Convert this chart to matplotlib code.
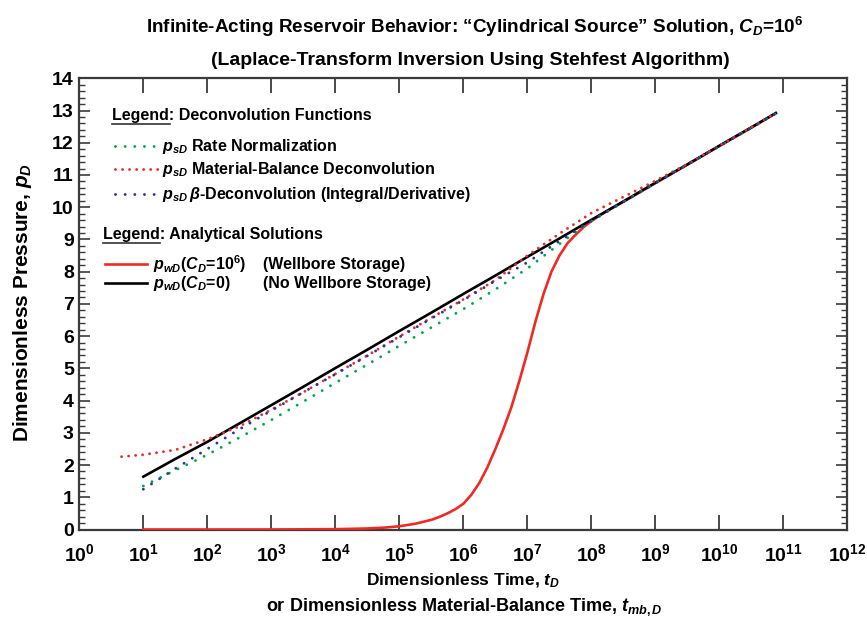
import matplotlib
matplotlib.use('Agg')
import matplotlib.pyplot as plt
from matplotlib import font_manager
from matplotlib.ticker import MultipleLocator, NullLocator, FixedLocator
import numpy as np

# values (x given as log10 of dimensionless time)
black_logt = [1.0, 1.5, 2.0, 2.5, 3.0, 3.5, 4.0, 4.5, 5.0, 5.5, 6.0, 6.5, 7.0,
              7.5, 8.0, 8.5, 9.0, 9.5, 10.0, 10.5, 10.88]
black_p = [1.64, 2.19, 2.72, 3.29, 3.86, 4.43, 5.01, 5.58, 6.16, 6.73, 7.31, 7.88,
           8.46, 9.03, 9.61, 10.18, 10.76, 11.33, 11.91, 12.48, 12.92]

red_logt = [1.0, 2.0, 3.0, 4.0, 4.5, 4.75, 5.0, 5.25, 5.5, 5.625, 5.75, 5.875,
            6.0, 6.125, 6.25, 6.375, 6.5, 6.625, 6.75, 6.875, 7.0, 7.125, 7.25,
            7.375, 7.5, 7.625, 7.75, 7.875, 8.0, 8.125, 8.25, 8.5, 8.75, 9.0,
            9.5, 10.0, 10.5, 10.88]
red_p = [0.00001, 0.0001, 0.001, 0.01, 0.032, 0.056, 0.10, 0.18, 0.30, 0.39,
         0.50, 0.63, 0.80, 1.08, 1.45, 1.93, 2.50, 3.12, 3.80, 4.62, 5.50, 6.45,
         7.30, 8.00, 8.50, 8.88, 9.14, 9.38, 9.57, 9.74, 9.89, 10.17, 10.46,
         10.75, 11.32, 11.90, 12.47, 12.92]

green_logt = [1.0, 1.5, 2.0, 2.5, 3.0, 3.5, 4.0, 4.5, 5.0, 5.5, 6.0, 6.5, 7.0,
              7.5, 8.0, 8.5, 9.0, 9.5, 10.0, 10.5, 10.88]
green_p = [1.35, 1.84, 2.32, 2.85, 3.40, 3.97, 4.55, 5.12, 5.70, 6.27, 6.84, 7.45,
           8.10, 8.86, 9.57, 10.17, 10.75, 11.33, 11.90, 12.47, 12.91]

mb_logt = [0.66, 1.0, 1.5, 2.0, 2.5, 3.0, 3.5, 4.0, 4.5, 5.0, 5.5, 6.0, 6.5, 7.0,
           7.5, 8.0, 8.5, 9.0, 9.5, 10.0, 10.5, 10.88]
mb_p = [2.26, 2.32, 2.47, 2.80, 3.20, 3.72, 4.26, 4.83, 5.40, 5.99, 6.57, 7.14,
        7.74, 8.50, 9.18, 9.82, 10.32, 10.82, 11.34, 11.91, 12.48, 12.92]

blue_logt = [1.0, 1.5, 2.0, 2.5, 3.0, 3.5, 4.0, 4.5, 5.0, 5.5, 6.0, 6.5, 7.0,
             7.5, 8.0, 8.5, 9.0, 9.5, 10.0, 10.5, 10.88]
blue_p = [1.25, 1.89, 2.50, 3.11, 3.69, 4.26, 4.82, 5.39, 5.97, 6.55, 7.12, 7.72,
          8.29, 8.95, 9.58, 10.17, 10.75, 11.33, 11.90, 12.47, 12.91]

x_exponents = list(range(0, 13))

names = {f.name for f in font_manager.fontManager.ttflist}
narrow = 'Liberation Sans Narrow' if 'Liberation Sans Narrow' in names else 'Liberation Sans'
wide = 'Liberation Sans'

plt.rcParams['mathtext.fontset'] = 'custom'
plt.rcParams['mathtext.rm'] = wide + ':bold'
plt.rcParams['mathtext.it'] = wide + ':italic:bold'
plt.rcParams['mathtext.bf'] = wide + ':bold'

GREEN = '#00a651'
MBRED = '#e0312f'
BLUE = '#2b3590'
RED = '#ee2a24'
SPINE = '#3a3a3a'

fig = plt.figure(figsize=(8.67, 6.27), dpi=100)
ax = fig.add_axes([0.0915, 0.1555, 0.886, 0.7196])

lw_dot = 2.1
dot_wide = (0, (0.01, 3.3))
dot_tight = (0, (0.01, 2.4))
ax.plot(10.0 ** np.array(red_logt), red_p, color=RED, lw=1.9, zorder=3)
ax.plot(10.0 ** np.array(black_logt), black_p, color='black', lw=1.9, zorder=4)
ax.plot(10.0 ** np.array(green_logt), green_p, color=GREEN, lw=lw_dot,
        linestyle=dot_wide, dash_capstyle='round', zorder=5)
ax.plot(10.0 ** np.array(mb_logt), mb_p, color=MBRED, lw=lw_dot,
        linestyle=dot_tight, dash_capstyle='round', zorder=5)
ax.plot(10.0 ** np.array(blue_logt), blue_p, color=BLUE, lw=lw_dot,
        linestyle=dot_wide, dash_capstyle='round', zorder=5)

ax.set_xscale('log')
ax.set_xlim(1, 1e12)
ax.set_ylim(0, 14)
ax.xaxis.set_major_locator(FixedLocator([10.0 ** e for e in x_exponents]))
ax.xaxis.set_minor_locator(NullLocator())
ax.set_xticklabels(['10$^{%d}$' % e for e in x_exponents])
ax.yaxis.set_major_locator(MultipleLocator(1))
ax.yaxis.set_minor_locator(MultipleLocator(0.2))

ax.tick_params(axis='x', which='major', direction='in', top=True, length=11,
               width=1.3, color=SPINE, pad=10)
ax.tick_params(axis='y', which='major', direction='in', right=True, length=8,
               width=1.2, color=SPINE, pad=4)
ax.tick_params(axis='y', which='minor', direction='in', right=True, length=4.5,
               width=1.0, color=SPINE)
for lab in ax.get_xticklabels() + ax.get_yticklabels():
    lab.set_fontfamily(narrow)
    lab.set_fontweight('bold')
    lab.set_fontsize(14)
for s in ax.spines.values():
    s.set_color(SPINE)
    s.set_linewidth(1.6)

# titles and axis labels
fig.text(0.548, 0.957, 'Infinite-Acting Reservoir Behavior: \u201cCylindrical Source\u201d Solution, $C_D$=10$^{6}$',
         ha='center', va='center', fontsize=13.6, fontweight='bold', family=narrow)
fig.text(0.542, 0.904, '(Laplace-Transform Inversion Using Stehfest Algorithm)',
         ha='center', va='center', fontsize=14, fontweight='bold', family=narrow)
fig.text(0.534, 0.073, 'Dimensionless Time, $t_D$', ha='center', va='center',
         fontsize=12.5, fontweight='bold', family=narrow)
fig.text(0.535, 0.032, 'or Dimensionless Material-Balance Time, $t_{mb,D}$', ha='center',
         va='center', fontsize=13, fontweight='bold', family=narrow)
fig.text(0.026, 0.517, 'Dimensionless Pressure, $p_D$', ha='center', va='center',
         rotation=90, fontsize=15, fontweight='bold', family=wide)


# hand-made legend, positions in pixels of the reference
def ax_xy(px, py):
    return (px - 79.3) / 768.2, (529.5 - py) / 451.2


def header(px, py, word_end, rest):
    x0, y0 = ax_xy(px, py)
    ax.text(x0, y0, 'Legend' + rest, transform=ax.transAxes, ha='left', va='center',
            fontsize=11.5, fontweight='bold', family=wide)
    ux0, uy = ax_xy(px, py + 9)
    ux1, _ = ax_xy(word_end, py + 9)
    ax.plot([ux0, ux1], [uy, uy], transform=ax.transAxes, color='#333333', lw=1.2,
            clip_on=False)


def entry(x0, x1, py, tx, text, **style):
    a0, ay = ax_xy(x0, py)
    a1, _ = ax_xy(x1, py)
    ax.plot([a0, a1], [ay, ay], transform=ax.transAxes, clip_on=False, **style)
    tx0, _ = ax_xy(tx, py)
    ax.text(tx0, ay, text, transform=ax.transAxes, ha='left', va='center',
            fontsize=11.5, fontweight='bold', family=wide)


header(112, 115, 170, ': Deconvolution Functions')
entry(115, 156, 146, 162, '$p_{sD}$ Rate Normalization', color=GREEN, lw=lw_dot,
      linestyle=dot_wide, dash_capstyle='round')
entry(115, 158, 169, 162, '$p_{sD}$ Material-Balance Deconvolution', color=MBRED,
      lw=lw_dot, linestyle=dot_tight, dash_capstyle='round')
entry(115, 156, 194, 162, r'$p_{sD}\,\beta$-Deconvolution (Integral/Derivative)',
      color=BLUE, lw=lw_dot, linestyle=dot_wide, dash_capstyle='round')

header(103, 234, 160, ': Analytical Solutions')
entry(105, 147, 264, 153, '$p_{wD}$($C_D$=10$^{6}$)', color=RED, lw=1.9)
entry(105, 147, 283, 153, '$p_{wD}$($C_D$=0)', color='black', lw=1.9)
for py, text in [(264, '(Wellbore Storage)'), (283, '(No Wellbore Storage)')]:
    tx0, ty = ax_xy(263, py)
    ax.text(tx0, ty, text, transform=ax.transAxes, ha='left', va='center',
            fontsize=11.5, fontweight='bold', family=wide)

fig.savefig('out.png', dpi=100)
